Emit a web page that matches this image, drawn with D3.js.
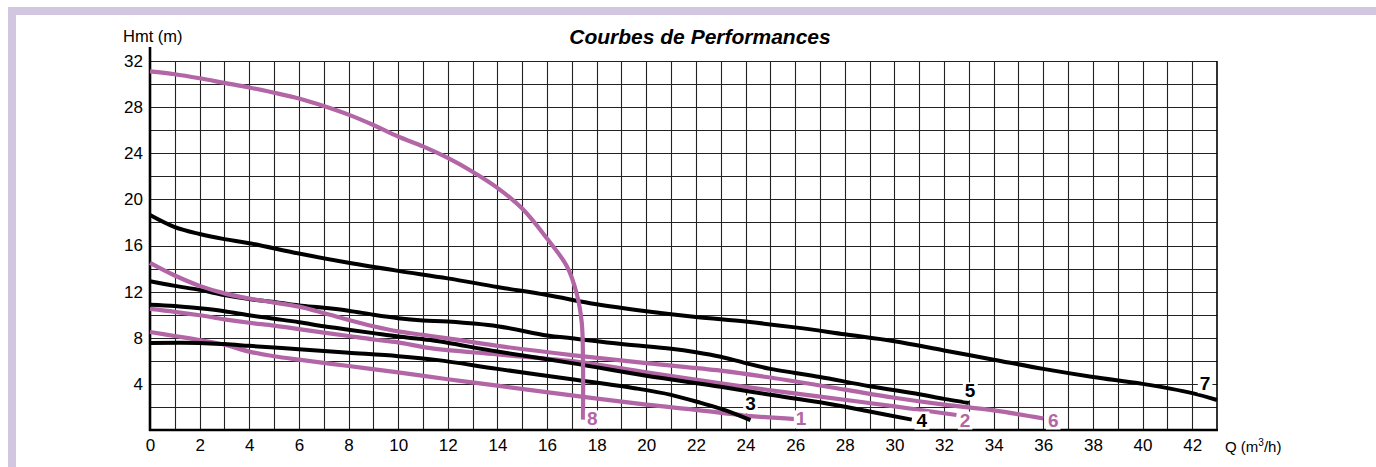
<!DOCTYPE html>
<html>
<head>
<meta charset="utf-8">
<script src="https://cdn.jsdelivr.net/npm/d3@7"></script>
<style>
  body { margin: 0px; background: white; }
  text { font-family: "Liberation Sans", Arial, Helvetica, sans-serif; }
</style>
</head>
<body>
<svg id="chart" width="1376" height="467"></svg>
<script>
// tick values
var qTicks = d3.range(0, 43, 2);
var hTicks = [4, 8, 12, 16, 20, 24, 28, 32];

// pump curves, [Q (m3/h), Hmt (m)]
var curve1 = [[0,8.5],[1,8.15],[2,7.8],[3,7.4],[4,6.8],[5,6.4],[6,6.1],[8,5.55],[10,5.0],[12,4.4],[14,3.85],[17,3.0],[20,2.2],[22,1.75],[24,1.25],[26,0.95]];
var curve2 = [[0,10.5],[1,10.25],[2,9.95],[3,9.6],[4,9.3],[5,9.05],[6,8.75],[7,8.45],[8,8.15],[9,7.85],[10,7.6],[11.3,7.1],[14,6.55],[17.3,5.9],[20,5.0],[23,4.05],[25,3.45],[27,2.9],[30,2.05],[32.5,1.3]];
var curve3 = [[0,7.55],[2,7.55],[3,7.45],[4,7.3],[6,7.0],[8,6.7],[10,6.4],[11.6,6.06],[14,5.3],[17,4.4],[19.6,3.6],[21,3.05],[22.2,2.35],[23.2,1.7],[24.2,0.85]];
var curve4 = [[0,10.86],[1,10.75],[2,10.55],[3,10.3],[4,9.95],[5,9.65],[6,9.35],[7,9.0],[8,8.7],[9,8.4],[10,8.1],[11.3,7.8],[14,6.8],[17,5.8],[20,4.7],[23,3.75],[25,3.05],[27,2.4],[29,1.6],[30.7,0.9]];
var curve5 = [[0,12.9],[1,12.5],[2,12.15],[3,11.7],[4,11.35],[5,11.1],[6,10.8],[7,10.6],[8,10.35],[9,10.0],[10,9.7],[11,9.5],[12,9.4],[14,9.0],[16,8.2],[17,7.95],[19,7.45],[21,7.05],[22,6.75],[23,6.35],[24,5.8],[25,5.3],[26,4.95],[27,4.6],[29,3.8],[31,3.1],[32,2.7],[33,2.35]];
var curve6 = [[0,14.5],[1,13.4],[2,12.5],[3,11.85],[4,11.4],[5,11.05],[6,10.7],[7,10.15],[8,9.55],[9,9.0],[10,8.55],[11,8.25],[12,7.95],[14,7.3],[17,6.5],[20,5.8],[23,5.15],[25,4.55],[28,3.5],[30,2.8],[32,2.2],[34,1.7],[36,1.0]];
var curve7 = [[0,18.65],[1,17.6],[2,17.0],[3,16.55],[4,16.2],[6,15.3],[8,14.5],[10,13.8],[12,13.15],[14,12.4],[16,11.7],[18,10.9],[20,10.3],[22,9.8],[24,9.4],[26,8.9],[28,8.3],[30,7.7],[32,6.9],[34,6.1],[36,5.3],[38,4.6],[40,4.0],[42,3.2],[43,2.6]];
var curve8 = [[0,31.1],[1,30.85],[2,30.5],[3,30.1],[4,29.7],[5,29.25],[6,28.75],[7,28.1],[8,27.35],[9,26.45],[10,25.45],[11,24.6],[12,23.6],[13,22.4],[14,21.0],[15,19.2],[16,16.6],[16.8,14.2],[17.2,11.8],[17.4,9.3],[17.45,6],[17.45,0.9]];

var curveNames = ["1","2","3","4","5","6","7","8"];
var curveData = [curve1, curve2, curve3, curve4, curve5, curve6, curve7, curve8];
var purpleCurves = ["1","2","6","8"];

// where each curve number sits (Q, Hmt of the baseline)
var labelQ = {"1":26.24, "2":32.85, "3":24.2, "4":31.1, "5":33.05, "6":36.4, "7":42.52, "8":17.82};
var labelH = {"1":0.4, "2":0.3, "3":1.7, "4":0.3, "5":2.83, "6":0.3, "7":3.45, "8":0.4};

var purple = "#b366a6";
var svg = d3.select("#chart");

// lavender frame (top and left)
svg.append("rect").attr("x", 8).attr("y", 7).attr("width", 1368).attr("height", 8).style("fill", "#d3c6e0");
svg.append("rect").attr("x", 8).attr("y", 7).attr("width", 8).attr("height", 460).style("fill", "#d3c6e0");

var x = d3.scaleLinear().domain([0, 43]).range([150, 1217]);
var y = d3.scaleLinear().domain([0, 32]).range([430, 61]);

// grid
var grid = svg.append("g");
grid.selectAll("line.v")
  .data(d3.range(1, 43))
  .enter().append("line")
  .attr("x1", d => Math.round(x(d)) + 0.5).attr("x2", d => Math.round(x(d)) + 0.5)
  .attr("y1", y(32)).attr("y2", y(0))
  .style("stroke", "#222").style("stroke-width", "1.1px");
grid.selectAll("line.h")
  .data(d3.range(2, 33, 2))
  .enter().append("line")
  .attr("x1", x(0)).attr("x2", x(43))
  .attr("y1", d => Math.round(y(d)) + 0.5).attr("y2", d => Math.round(y(d)) + 0.5)
  .style("stroke", "#222").style("stroke-width", "1.1px");
// right border
grid.append("line")
  .attr("x1", x(43)).attr("x2", x(43)).attr("y1", y(32)).attr("y2", y(0))
  .style("stroke", "black").style("stroke-width", "1.6px");

// axes lines (thicker)
svg.append("line").attr("x1", x(0)).attr("x2", x(0)).attr("y1", 47).attr("y2", y(0) + 1)
  .style("stroke", "black").style("stroke-width", "2.6px");
svg.append("line").attr("x1", x(0) - 1).attr("x2", x(43) + 1).attr("y1", y(0)).attr("y2", y(0))
  .style("stroke", "black").style("stroke-width", "2.6px");

// tick labels
var xAxis = svg.append("g").attr("transform", "translate(0," + y(0) + ")")
  .call(d3.axisBottom(x).tickValues(qTicks).tickSize(0).tickPadding(9).tickFormat(d3.format("d")));
var yAxis = svg.append("g").attr("transform", "translate(" + x(0) + ",0)")
  .call(d3.axisLeft(y).tickValues(hTicks).tickSize(0).tickPadding(7).tickFormat(d3.format("d")));
[xAxis, yAxis].forEach(function(a) {
  a.select(".domain").remove();
  a.selectAll("text").style("font-size", "17px").style("fill", "black")
    .style("font-family", "'Liberation Sans', Arial, sans-serif");
});

// curves
var line = d3.line()
  .x(d => x(d[0]))
  .y(d => y(d[1]))
  .curve(d3.curveCatmullRom.alpha(0.5));

svg.append("g").selectAll("path")
  .data(curveNames)
  .enter().append("path")
  .attr("d", (n, i) => line(curveData[i]))
  .style("fill", "none")
  .style("stroke", n => purpleCurves.includes(n) ? purple : "black")
  .style("stroke-width", n => purpleCurves.includes(n) ? "4.2px" : "4px")
  .style("stroke-linejoin", "round");

// curve numbers with white patches
var lab = svg.append("g").selectAll("g")
  .data(curveNames)
  .enter().append("g");
lab.append("text")
  .attr("x", n => x(labelQ[n]))
  .attr("y", n => y(labelH[n]))
  .attr("text-anchor", "middle")
  .style("font-size", "19px")
  .style("font-weight", "bold")
  .style("fill", n => purpleCurves.includes(n) ? purple : "black")
  .text(n => n);
lab.each(function() {
  var g = d3.select(this);
  var bb = g.select("text").node().getBBox();
  g.insert("rect", "text")
    .attr("x", bb.x - 2).attr("y", bb.y + 2)
    .attr("width", bb.width + 4).attr("height", bb.height - 3)
    .style("fill", "white");
});

// titles
svg.append("text").attr("x", 123).attr("y", 41.5)
  .style("font-size", "16.5px").text("Hmt (m)");
svg.append("text").attr("x", 700).attr("y", 44)
  .attr("text-anchor", "middle")
  .style("font-size", "21px").style("font-weight", "bold").style("font-style", "italic")
  .text("Courbes de Performances");
var qLab = svg.append("text").attr("x", 1225).attr("y", 452).style("font-size", "15px");
qLab.append("tspan").text("Q (m");
qLab.append("tspan").attr("dy", -6).style("font-size", "10px").text("3");
qLab.append("tspan").attr("dy", 6).text("/h)");
</script>
</body>
</html>
